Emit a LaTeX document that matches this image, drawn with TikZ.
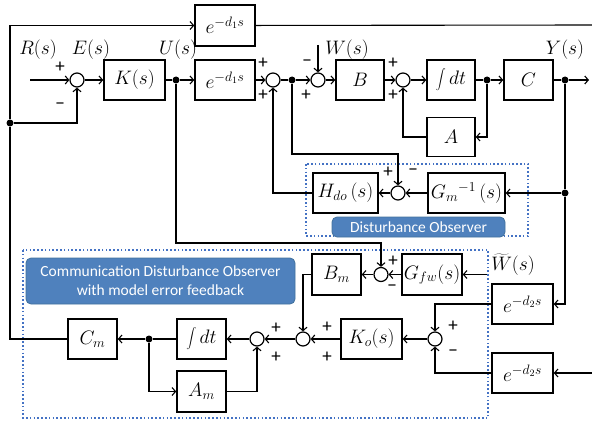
\RequirePackage{fix-cm}
\documentclass[tikz,border=0pt]{standalone}
\usepackage{fontspec}
\newfontfamily\lab{Carlito}
\usetikzlibrary{arrows.meta}
\definecolor{dobblue}{RGB}{68,114,196}
\definecolor{labfill}{RGB}{79,129,189}
\definecolor{labdraw}{RGB}{65,113,156}
\newcommand{\mfont}{\fontsize{19.5}{22}\selectfont}
\begin{document}
\begin{tikzpicture}[x=1pt,y=-1pt,
  every node/.style={font=\mfont},
  blk/.style={draw,line width=1.5pt,inner sep=0pt,minimum height=40pt},
  sumc/.style={circle,draw,line width=1.2pt,minimum size=14pt,inner sep=0pt},
  jdot/.style={circle,fill,minimum size=7pt,inner sep=0pt},
  conn/.style={line width=1.1pt},
  arr/.style={conn,-{Straight Barb[length=3.5pt,width=8pt]}},
  sgn/.style={inner sep=0pt,font=\lab\fontsize{19}{19}\selectfont},
  lbl/.style={inner sep=0pt},
  frame/.style={draw=dobblue,line width=2pt,dash pattern=on 1.6pt off 2.2pt},
  tag/.style={fill=labfill,draw=labdraw,line width=0.8pt,rounded corners=5pt,text=white,font=\lab\fontsize{15.5}{19}\selectfont,align=center}
]
\useasboundingbox (0,0) rectangle (592,428);
% frames and tags
\draw[frame] (306,164) rectangle (528,236);
\draw[frame] (23,250) rectangle (488,418);
\node[tag,minimum width=173pt,minimum height=20pt,inner sep=0pt] (tagdob) at (418.5,227) {Disturbance Observer};
\node[tag,minimum width=269pt,minimum height=46pt,inner sep=0pt] (tagcdob) at (160.5,281) {Communication Disturbance Observer\\with model error feedback};
% blocks
\node[blk,minimum width=61pt] (K) at (134.5,80) {$K(s)$};
\node[blk,minimum width=60pt] (D1) at (225,80) {$e^{-d_1 s}$};
\node[blk,minimum width=60pt,minimum height=41pt] (D1t) at (225,25.5) {$e^{-d_1 s}$};
\node[blk,minimum width=48pt] (B) at (360,80) {$B$};
\node[blk,minimum width=48pt] (I) at (451,80) {$\displaystyle\int dt$};
\node[blk,minimum width=49pt] (C) at (528.5,80) {$C$};
\node[blk,minimum width=48pt,minimum height=39pt] (A) at (451,137) {$A$};
\node[blk,minimum width=65pt] (H) at (345.5,193) {$H_{do}\,(s)$};
\node[blk,minimum width=77pt] (G) at (466.5,193) {$G_m{}^{-1}\,(s)$};
\node[blk,minimum width=49pt,minimum height=41pt] (Bm) at (336.5,274.5) {$B_m$};
\node[blk,minimum width=60pt,minimum height=41pt] (Gfw) at (432,274.5) {$G_{fw}(s)$};
\node[blk,minimum width=61pt] (E2a) at (522.5,304) {$e^{-d_2 s}$};
\node[blk,minimum width=61pt] (E2b) at (522.5,373) {$e^{-d_2 s}$};
\node[blk,minimum width=61pt] (Ko) at (371.5,339) {$K_o(s)$};
\node[blk,minimum width=49pt] (Im) at (201.5,339) {$\displaystyle\int dt$};
\node[blk,minimum width=49pt] (Cm) at (92.5,339) {$C_m$};
\node[blk,minimum width=49pt,minimum height=41pt] (Am) at (201.5,391.5) {$A_m$};
% sums
\node[sumc] (s1) at (77,80) {};
\node[sumc] (s2) at (273,80) {};
\node[sumc] (s3) at (318,80) {};
\node[sumc] (s4) at (403,80) {};
\node[sumc] (s5) at (398,193) {};
\node[sumc] (s6) at (381,274.5) {};
\node[sumc] (s7) at (435,339) {};
\node[sumc] (s8) at (303,339) {};
\node[sumc] (s9) at (257,339) {};
% dots
\node[jdot] (d1) at (176,80) {};
\node[jdot] (d2) at (292,80) {};
\node[jdot] (d3) at (487,80) {};
\node[jdot] (dY) at (565,80) {};
\node[jdot] (dY2) at (565,193) {};
\node[jdot] (dL) at (10,123) {};
\node[jdot] (dm) at (149,339) {};
% free ends
\coordinate (Rin) at (30,80);
\coordinate (Yout) at (589,80);
\coordinate (Win) at (318,45);
\coordinate (Wt) at (487,274.5);
\coordinate (Ein) at (592,373);
\coordinate (Tout) at (592,25);
% labels
\node[lbl] at (38,50) {$R(s)$};
\node[lbl] at (91,50) {$E(s)$};
\node[lbl] at (178,50) {$U(s)$};
\node[lbl] at (347,50) {$W(s)$};
\node[lbl] at (565,50) {$Y(s)$};
\node[lbl] at (513,265) {$\widetilde{W}(s)$};
% signs
\node[sgn] at (60,67) {+};
\node[sgn] at (60,106) {\textminus};
\node[sgn] at (263,63) {+};
\node[sgn] at (263,95) {+};
\node[sgn] at (307,63) {\textminus};
\node[sgn] at (306,95) {+};
\node[sgn] at (393,63) {+};
\node[sgn] at (393,95) {+};
\node[sgn] at (388,172) {+};
\node[sgn] at (413,172) {\textminus};
\node[sgn] at (393,261) {+};
\node[sgn] at (392,288) {\textminus};
\node[sgn] at (453,326) {+};
\node[sgn] at (453,353) {\textminus};
\node[sgn] at (327,327) {+};
\node[sgn] at (327,357) {+};
\node[sgn] at (276,328) {+};
\node[sgn] at (276,357) {+};
% connectors: main loop
\draw[arr] (Rin) -- (s1);
\draw[arr] (s1) -- (K);
\draw[arr] (K) -- (d1) -- (D1);
\draw[arr] (D1) -- (s2);
\draw[arr] (s2) -- (d2) -- (s3);
\draw[arr] (Win) -- (s3);
\draw[arr] (s3) -- (B);
\draw[arr] (B) -- (s4);
\draw[arr] (s4) -- (I);
\draw[arr] (I) -- (d3) -- (C);
\draw[arr] (C) -- (dY) -- (Yout);
\draw[arr] (d3) |- (A);
\draw[arr] (A) -| (s4);
\draw[conn] (D1t) -- (Tout);
% DOB
\draw[arr] (d2) |- (398,154) -- (s5);
\draw[arr] (dY2) -- (G);
\draw[arr] (G) -- (s5);
\draw[arr] (s5) -- (H);
\draw[arr] (H) -| (s2);
% CDOB
\draw[arr] (d1) |- (381,243) -- (s6);
\draw[arr] (Wt) -- (Gfw);
\draw[arr] (Gfw) -- (s6);
\draw[arr] (s6) -- (Bm);
\draw[arr] (Bm) -| (s8);
\draw[conn] (dY) -- (dY2);
\draw[arr] (dY2) |- (E2a);
\draw[arr] (E2a) -| (s7);
\draw[arr] (Ein) -- (E2b);
\draw[arr] (E2b) -| (s7);
\draw[arr] (s7) -- (Ko);
\draw[arr] (Ko) -- (s8);
\draw[arr] (s8) -- (s9);
\draw[arr] (s9) -- (Im);
\draw[arr] (Im) -- (dm) -- (Cm);
\draw[arr] (dm) |- (Am);
\draw[arr] (Am) -| (s9);
\draw[arr] (Cm) -| (dL) |- (D1t);
\draw[arr] (dL) -| (s1);
\end{tikzpicture}
\end{document}
